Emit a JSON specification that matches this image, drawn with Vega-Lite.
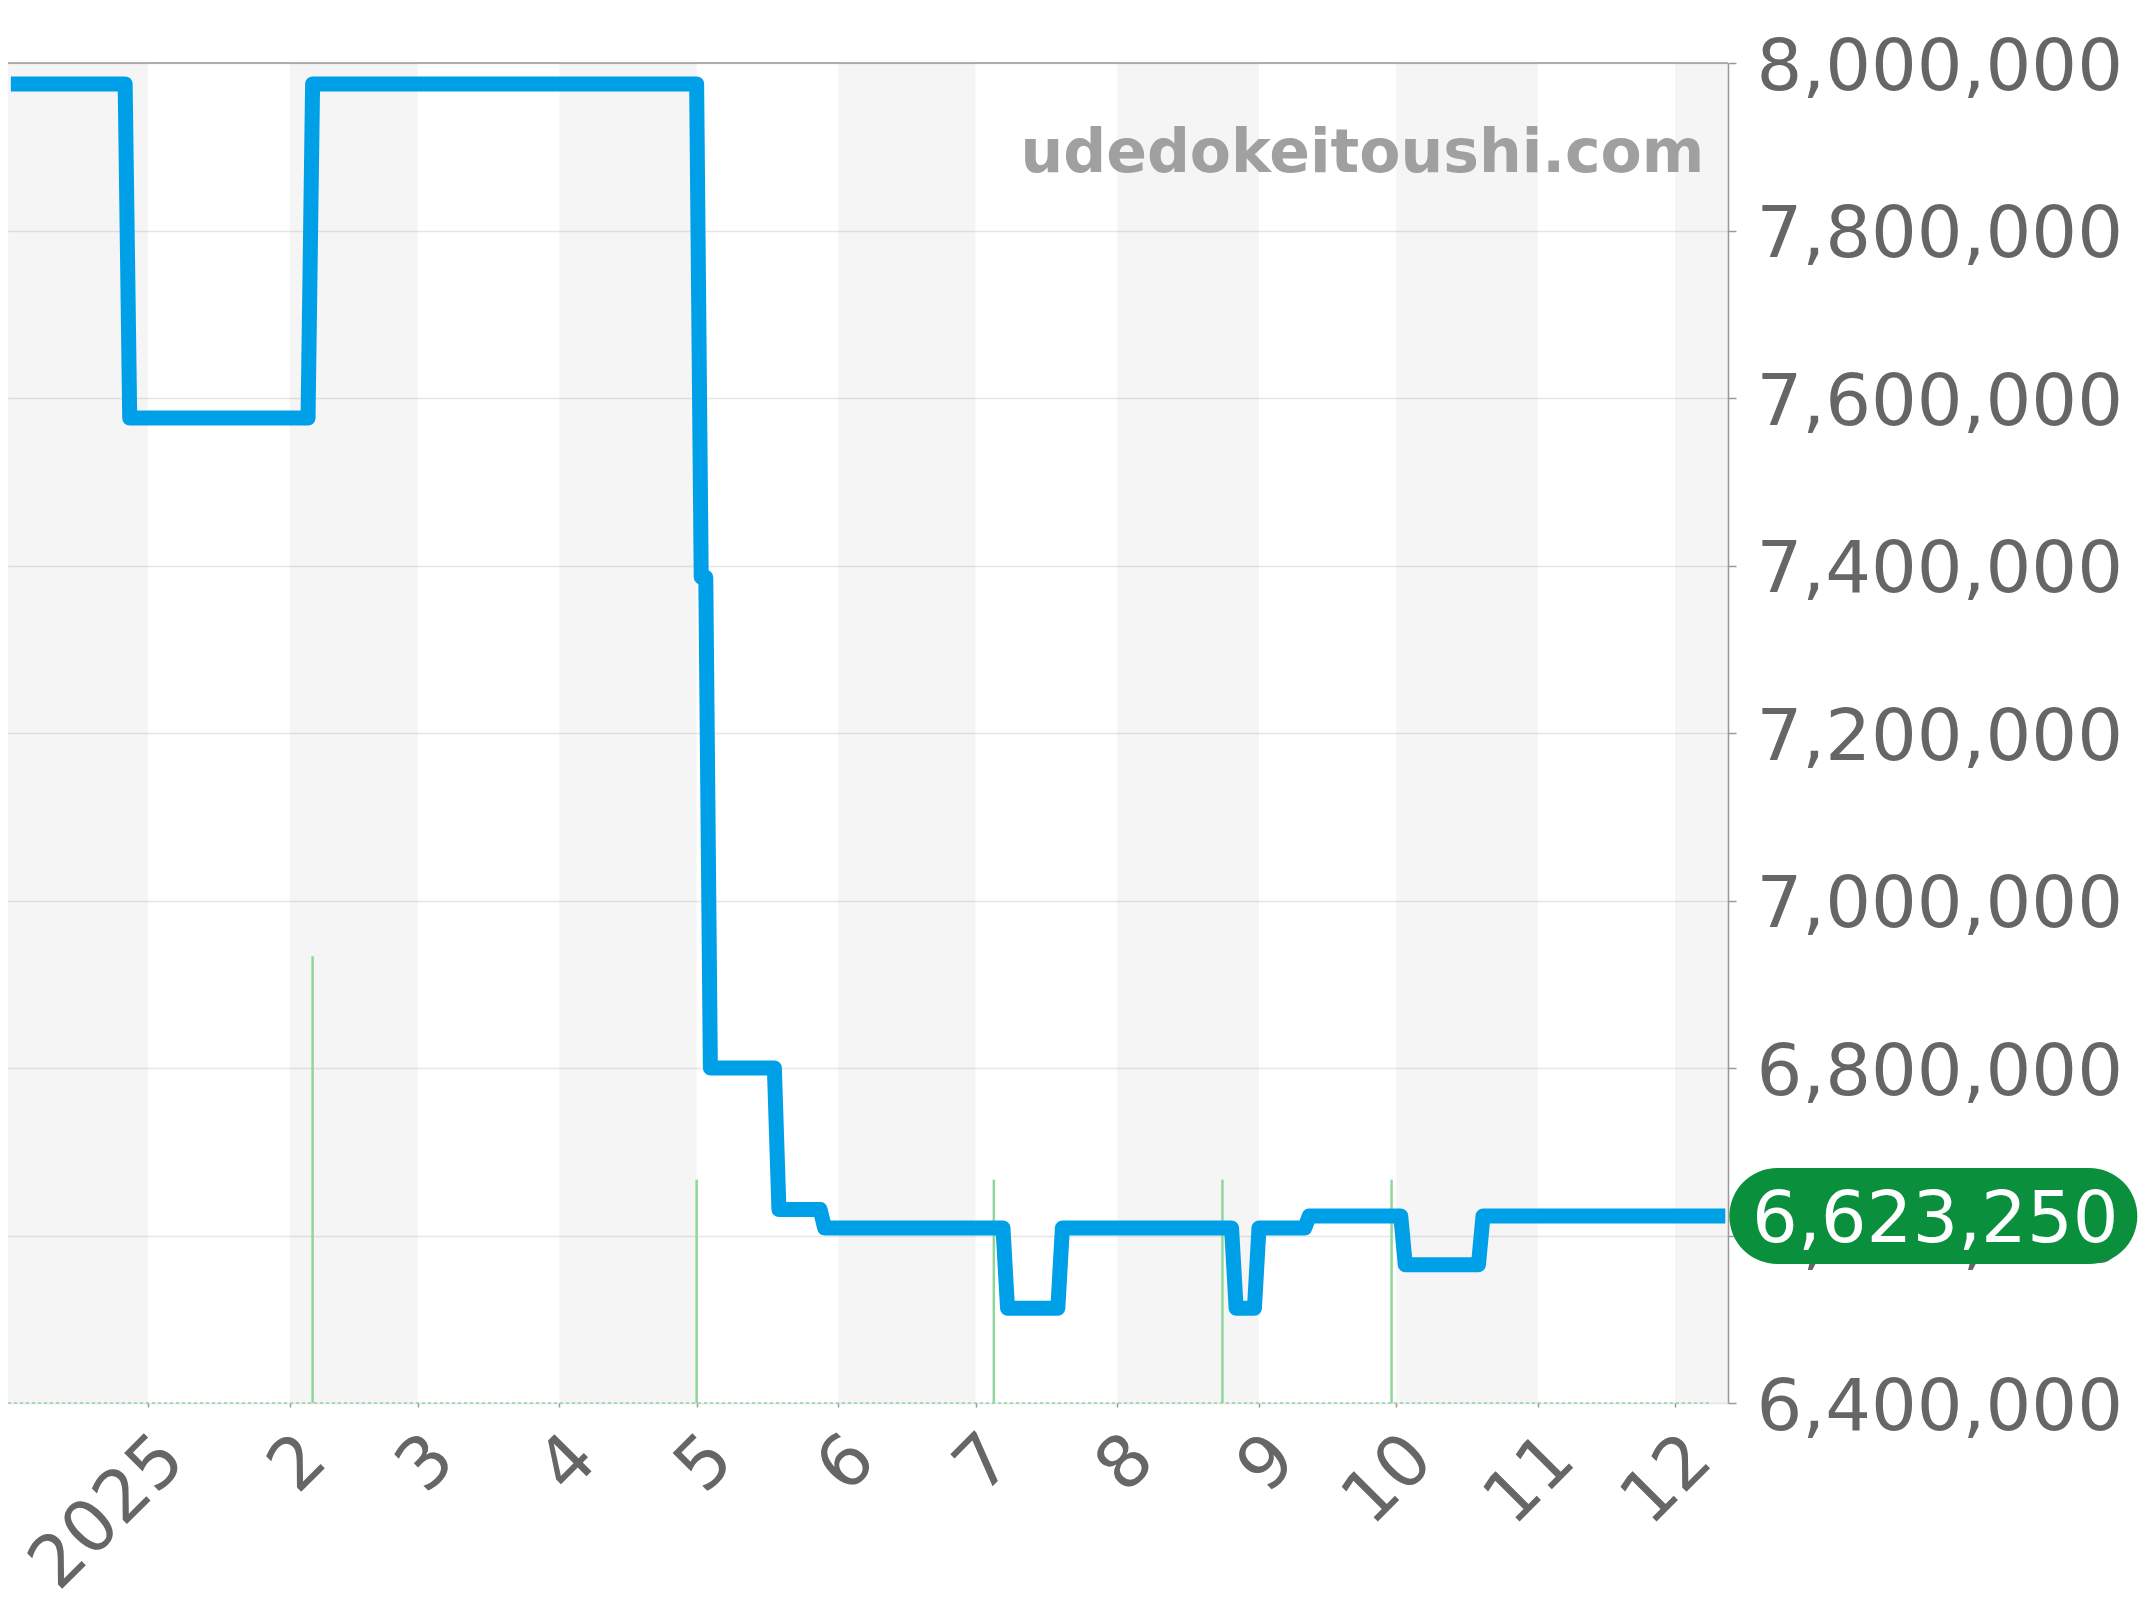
{
  "$schema": "https://vega.github.io/schema/vega-lite/v6.json",
  "width": 1720,
  "height": 1340,
  "autosize": {"type": "none"},
  "padding": {"left": 8, "top": 63, "right": 416, "bottom": 197},
  "background": "white",
  "config": {"view": {"stroke": null}, "font": "DejaVu Sans"},
  "datasets": {
    "prices": [
      {"date": "2024-12-02", "price": 7975000},
      {"date": "2024-12-27", "price": 7975000},
      {"date": "2024-12-28", "price": 7576000},
      {"date": "2025-02-05", "price": 7576000},
      {"date": "2025-02-06", "price": 7975000},
      {"date": "2025-05-01", "price": 7975000},
      {"date": "2025-05-02", "price": 7386000},
      {"date": "2025-05-03", "price": 7386000},
      {"date": "2025-05-04", "price": 6800000},
      {"date": "2025-05-18", "price": 6800000},
      {"date": "2025-05-19", "price": 6631000},
      {"date": "2025-05-28", "price": 6631000},
      {"date": "2025-05-29", "price": 6609000},
      {"date": "2025-07-07", "price": 6609000},
      {"date": "2025-07-08", "price": 6513000},
      {"date": "2025-07-19", "price": 6513000},
      {"date": "2025-07-20", "price": 6609000},
      {"date": "2025-08-26", "price": 6609000},
      {"date": "2025-08-27", "price": 6513000},
      {"date": "2025-08-31", "price": 6513000},
      {"date": "2025-09-01", "price": 6609000},
      {"date": "2025-09-11", "price": 6609000},
      {"date": "2025-09-12", "price": 6623250},
      {"date": "2025-10-02", "price": 6623250},
      {"date": "2025-10-03", "price": 6565000},
      {"date": "2025-10-19", "price": 6565000},
      {"date": "2025-10-20", "price": 6623250},
      {"date": "2025-12-12", "price": 6623250}
    ],
    "counts": [
      {"date": "2025-02-06", "count": 2},
      {"date": "2025-05-01", "count": 1},
      {"date": "2025-07-05", "count": 1},
      {"date": "2025-08-24", "count": 1},
      {"date": "2025-09-30", "count": 1}
    ],
    "bands": [
      {"date": "2024-12-01", "end": "2025-01-01"},
      {"date": "2025-02-01", "end": "2025-03-01"},
      {"date": "2025-04-01", "end": "2025-05-01"},
      {"date": "2025-06-01", "end": "2025-07-01"},
      {"date": "2025-08-01", "end": "2025-09-01"},
      {"date": "2025-10-01", "end": "2025-11-01"},
      {"date": "2025-12-01", "end": "2026-01-01"}
    ]
  },
  "layer": [
    {
      "data": {"name": "prices"},
      "mark": {"type": "rule", "color": "#e6e6e6", "strokeWidth": 0},
      "encoding": {
        "x": {
          "field": "date", "type": "temporal",
          "scale": {"type": "utc", "domain": [
            {"year": 2024, "month": 12, "date": 1, "hours": 9, "utc": true},
            {"year": 2025, "month": 12, "date": 12, "hours": 14, "utc": true}
          ]},
          "axis": {
            "title": null,
            "values": [
              {"year": 2025, "month": 1, "date": 1, "utc": true},
              {"year": 2025, "month": 2, "date": 1, "utc": true},
              {"year": 2025, "month": 3, "date": 1, "utc": true},
              {"year": 2025, "month": 4, "date": 1, "utc": true},
              {"year": 2025, "month": 5, "date": 1, "utc": true},
              {"year": 2025, "month": 6, "date": 1, "utc": true},
              {"year": 2025, "month": 7, "date": 1, "utc": true},
              {"year": 2025, "month": 8, "date": 1, "utc": true},
              {"year": 2025, "month": 9, "date": 1, "utc": true},
              {"year": 2025, "month": 10, "date": 1, "utc": true},
              {"year": 2025, "month": 11, "date": 1, "utc": true},
              {"year": 2025, "month": 12, "date": 1, "utc": true}
            ],
            "labelExpr": "utcmonth(datum.value) == 0 ? utcFormat(datum.value, '%Y') : '' + (utcmonth(datum.value) + 1)",
            "labelAngle": -45,
            "labelAlign": "right",
            "labelBaseline": "middle",
            "labelFont": "DejaVu Sans",
            "labelFontSize": 72,
            "labelColor": "#666666",
            "labelPadding": 40,
            "labelOffset": 24,
            "labelOverlap": false,
            "labelFlush": false,
            "labelLimit": 600,
            "tickSize": 4,
            "tickColor": "#999999",
            "tickWidth": 1.5,
            "domain": false,
            "grid": false
          }
        },
        "y": {
          "field": "price", "type": "quantitative",
          "scale": {"domain": [6400000, 8000000]},
          "axis": {
            "orient": "right",
            "title": null,
            "values": [6400000, 6600000, 6800000, 7000000, 7200000, 7400000, 7600000, 7800000, 8000000],
            "format": ",d",
            "labelFont": "DejaVu Sans",
            "labelFontSize": 72,
            "labelColor": "#666666",
            "labelPadding": 20,
            "labelOffset": 4,
            "labelBaseline": "middle",
            "labelOverlap": false,
            "labelLimit": 600,
            "tickSize": 8,
            "tickColor": "#999999",
            "tickWidth": 1.5,
            "domainColor": "#999999",
            "domainWidth": 1.5,
            "grid": true,
            "gridColor": "#e6e6e6",
            "gridWidth": 1.5
          }
        }
      }
    },
    {
      "data": {"name": "bands"},
      "mark": {"type": "rect", "color": "#000000", "opacity": 0.04, "clip": true},
      "encoding": {
        "x": {"field": "date", "type": "temporal", "axis": {"title": null}},
        "x2": {"field": "end"}
      }
    },
    {
      "data": {"values": [{"level": 8000000}]},
      "mark": {"type": "rule", "color": "#999999", "strokeWidth": 1.5},
      "encoding": {
        "y": {"field": "level", "type": "quantitative", "axis": null, "scale": {"domain": [6400000, 8000000]}}
      }
    },
    {
      "data": {"name": "counts"},
      "mark": {"type": "rule", "color": "#8fd69a", "strokeWidth": 2.5},
      "encoding": {
        "x": {"field": "date", "type": "temporal", "axis": {"title": null}},
        "y": {"field": "count", "type": "quantitative", "axis": null, "scale": {"domain": [0, 6]}},
        "y2": {"datum": 0}
      }
    },
    {
      "data": {"values": [{"date": "2024-12-01T09:00:00Z", "end": "2025-12-09", "count": 0}]},
      "mark": {"type": "rule", "color": "#8fd69a", "strokeWidth": 1.5, "strokeDash": [3, 3]},
      "encoding": {
        "x": {"field": "date", "type": "temporal", "axis": {"title": null}},
        "x2": {"field": "end"},
        "y": {"field": "count", "type": "quantitative", "axis": null, "scale": {"domain": [0, 6]}}
      }
    },
    {
      "data": {"name": "prices"},
      "mark": {"type": "line", "color": "#00a0e9", "strokeWidth": 15, "strokeJoin": "round", "strokeCap": "butt"},
      "encoding": {
        "x": {"field": "date", "type": "temporal", "axis": {"title": null}},
        "y": {"field": "price", "type": "quantitative", "axis": null, "scale": {"domain": [6400000, 8000000]}}
      }
    },
    {
      "data": {"values": [{"date": "2025-12-12", "price": 6623250}]},
      "mark": {"type": "rule", "color": "#0a8f3c", "strokeWidth": 96, "strokeCap": "round", "xOffset": 52, "x2Offset": 364},
      "encoding": {
        "x": {"field": "date", "type": "temporal", "axis": {"title": null}},
        "x2": {"field": "date"},
        "y": {"field": "price", "type": "quantitative", "axis": null, "scale": {"domain": [6400000, 8000000]}}
      }
    },
    {
      "data": {"values": [{"date": "2025-12-12", "price": 6623250}]},
      "mark": {"type": "text", "color": "white", "font": "DejaVu Sans", "fontSize": 72, "align": "center", "baseline": "middle", "dx": 210, "dy": 4},
      "encoding": {
        "x": {"field": "date", "type": "temporal", "axis": {"title": null}},
        "y": {"field": "price", "type": "quantitative", "axis": null, "scale": {"domain": [6400000, 8000000]}},
        "text": {"field": "price", "type": "quantitative", "format": ",d"}
      }
    },
    {
      "data": {"values": [{"site": "udedokeitoushi.com", "date": "2025-12-12", "level": 7870000}]},
      "mark": {"type": "text", "color": "#a0a0a0", "font": "DejaVu Sans", "fontWeight": "bold", "fontSize": 60, "align": "right", "baseline": "alphabetic", "dx": -21},
      "encoding": {
        "x": {"field": "date", "type": "temporal", "axis": {"title": null}},
        "y": {"field": "level", "type": "quantitative", "axis": null, "scale": {"domain": [6400000, 8000000]}},
        "text": {"field": "site", "type": "nominal"}
      }
    }
  ],
  "resolve": {"scale": {"y": "independent"}}
}
